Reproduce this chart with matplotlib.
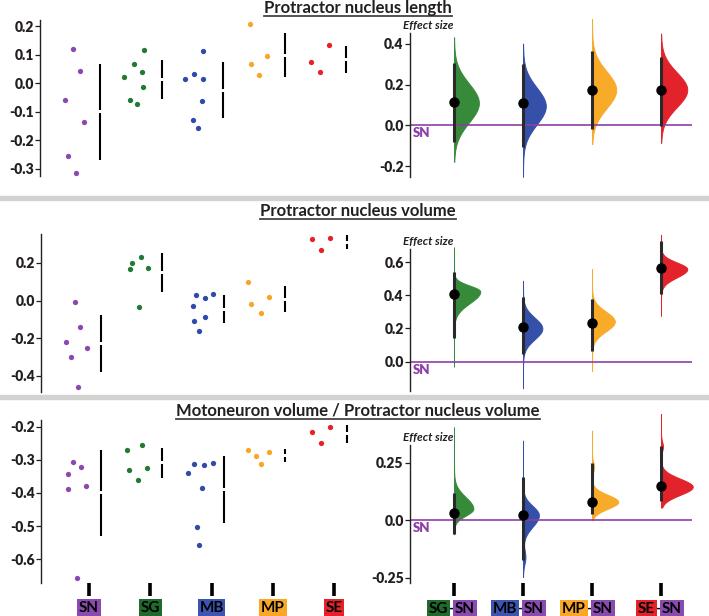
import numpy as np
import matplotlib
matplotlib.use("Agg")
import matplotlib.pyplot as plt
from matplotlib.lines import Line2D
from matplotlib.patches import Rectangle

plt.rcParams['font.family'] = ['Lato', 'DejaVu Sans']
plt.rcParams['axes.unicode_minus'] = False

groups = ['SN', 'SG', 'MB', 'MP', 'SE']
dot_colors = {'SN': '#8c47b0', 'SG': '#217a33', 'MB': '#2f4aa8', 'MP': '#f9a623', 'SE': '#e8202a'}
fill_colors = {'SG': '#378a3a', 'MB': '#3450a8', 'MP': '#f8ab28', 'SE': '#e3232b'}
box_colors = {'SN': '#8a4bb0', 'SG': '#1f6b2e', 'MB': '#3c55b0', 'MP': '#f9a825', 'SE': '#e52229'}
text_dark = '#231f20'

titles = ['Protractor nucleus length',
          'Protractor nucleus volume',
          'Motoneuron volume / Protractor nucleus volume']

# ---- raw measurements (left panels) ----
length_vals = {
    'SN': [0.121, 0.043, -0.058, -0.135, -0.255, -0.315],
    'SG': [0.116, 0.069, 0.040, 0.021, -0.012, -0.058, -0.074],
    'MB': [0.113, 0.033, 0.013, 0.016, -0.063, -0.130, -0.156],
    'MP': [0.207, 0.066, 0.094, 0.029],
    'SE': [0.133, 0.076, 0.040],
}
volume_vals = {
    'SN': [-0.007, -0.138, -0.218, -0.250, -0.298, -0.459],
    'SG': [0.199, 0.229, 0.167, 0.172, -0.035],
    'MB': [0.027, 0.014, 0.034, -0.027, -0.085, -0.110, -0.163],
    'MP': [0.098, 0.021, -0.020, -0.064],
    'SE': [0.328, 0.330, 0.268],
}
ratio_vals = {
    'SN': [-0.306, -0.321, -0.344, -0.387, -0.380, -0.656],
    'SG': [-0.271, -0.254, -0.332, -0.326, -0.362],
    'MB': [-0.339, -0.314, -0.316, -0.311, -0.385, -0.504, -0.557],
    'MP': [-0.272, -0.290, -0.276, -0.312],
    'SE': [-0.215, -0.200, -0.250],
}

# mean and sd shown as gapped bars
length_mean = [-0.100, 0.0135, -0.0245, 0.0985, 0.083]
length_sd = [0.169, 0.0675, 0.0975, 0.0765, 0.047]
volume_mean = [-0.2285, 0.1475, -0.045, 0.008, 0.3095]
volume_sd = [0.1525, 0.1045, 0.075, 0.068, 0.0365]
ratio_mean = [-0.400, -0.3095, -0.390, -0.2875, -0.2215]
ratio_sd = [0.129, 0.0445, 0.100, 0.0185, 0.0265]

# horizontal jitter of the dots (layout only)
length_jit = {
    'SN': [-0.24, -0.13, -0.37, -0.07, -0.33, -0.20],
    'SG': [-0.09, -0.25, -0.12, -0.41, -0.11, -0.32, -0.20],
    'MB': [-0.13, -0.28, -0.42, -0.13, -0.15, -0.29, -0.21],
    'MP': [-0.37, -0.35, -0.09, -0.22],
    'SE': [-0.08, -0.37, -0.23],
}
volume_jit = {
    'SN': [-0.23, -0.15, -0.37, -0.03, -0.29, -0.18],
    'SG': [-0.30, -0.15, -0.33, -0.04, -0.19],
    'MB': [-0.26, -0.11, 0.02, -0.31, -0.11, -0.28, -0.20],
    'MP': [-0.40, -0.06, -0.35, -0.20],
    'SE': [-0.36, -0.07, -0.21],
}
ratio_jit = {
    'SN': [-0.26, -0.13, -0.34, -0.34, -0.05, -0.20],
    'SG': [-0.37, -0.14, -0.35, -0.06, -0.20],
    'MB': [-0.39, -0.28, -0.13, 0.02, -0.15, -0.24, -0.20],
    'MP': [-0.41, -0.28, -0.06, -0.20],
    'SE': [-0.36, -0.07, -0.21],
}

# ---- effect sizes vs SN (right panels) ----
contrasts = ['SG', 'MB', 'MP', 'SE']
length_est = [0.117, 0.109, 0.174, 0.174]
length_ci = [(-0.081, 0.306), (-0.105, 0.303), (-0.020, 0.364), (-0.003, 0.334)]
volume_est = [0.407, 0.207, 0.234, 0.564]
volume_ci = [(0.145, 0.538), (0.044, 0.389), (0.066, 0.377), (0.407, 0.725)]
ratio_est = [0.033, 0.022, 0.080, 0.148]
ratio_ci = [(-0.058, 0.116), (-0.174, 0.186), (0.026, 0.249), (0.084, 0.322)]

# bootstrap distribution outlines: mode, sd below, sd above, min, max, peak width
length_dist = [(0.110, 0.095, 0.095, -0.179, 0.433, 0.36),
               (0.095, 0.090, 0.090, -0.253, 0.402, 0.33),
               (0.175, 0.090, 0.090, -0.092, 0.523, 0.35),
               (0.175, 0.085, 0.085, -0.086, 0.451, 0.38)]
volume_dist = [(0.423, 0.070, 0.035, -0.030, 0.689, 0.38),
               (0.200, 0.065, 0.065, -0.161, 0.487, 0.28),
               (0.242, 0.060, 0.060, -0.058, 0.558, 0.33),
               (0.558, 0.050, 0.040, 0.276, 0.765, 0.38)]
ratio_dist = [(0.050, 0.030, 0.050, -0.061, 0.403, 0.28),
              (0.022, 0.050, 0.040, -0.246, 0.345, 0.23),
              (0.080, 0.030, 0.030, 0.000, 0.388, 0.38),
              (0.145, 0.035, 0.035, 0.055, 0.461, 0.46)]
# small secondary bumps: (centre, relative height, sd)
ratio_bumps = [None, (-0.16, 0.15, 0.03), (0.23, 0.08, 0.02), (0.32, 0.06, 0.02)]

rows = [
    dict(vals=length_vals, jit=length_jit, mean=length_mean, sd=length_sd,
         est=length_est, ci=length_ci, dist=length_dist, bumps=[None] * 4,
         lyt=[0.2, 0.1, 0.0, -0.1, -0.2, -0.3], lylim=(-0.326, 0.222),
         ryt=[0.4, 0.2, 0.0, -0.2], rylim=(-0.254, 0.454),
         lbox=(40, 20, 320, 156), rbox=(410, 33, 282, 144),
         title_y=8, uline_y=16, eff_y=26),
    dict(vals=volume_vals, jit=volume_jit, mean=volume_mean, sd=volume_sd,
         est=volume_est, ci=volume_ci, dist=volume_dist, bumps=[None] * 4,
         lyt=[0.2, 0.0, -0.2, -0.4], lylim=(-0.485, 0.353),
         ryt=[0.6, 0.4, 0.2, 0.0], rylim=(-0.177, 0.679),
         lbox=(41, 234, 319, 158), rbox=(410, 249, 282, 142),
         title_y=211, uline_y=219, eff_y=242),
    dict(vals=ratio_vals, jit=ratio_jit, mean=ratio_mean, sd=ratio_sd,
         est=ratio_est, ci=ratio_ci, dist=ratio_dist, bumps=ratio_bumps,
         lyt=[-0.2, -0.3, -0.4, -0.5, -0.6], lylim=(-0.672, -0.18),
         ryt=[0.25, 0.0, -0.25], rylim=(-0.272, 0.326),
         lbox=(41, 420, 319, 163), rbox=(410, 445, 282, 138),
         title_y=411, uline_y=419, eff_y=438),
]

W, H = 709, 616
fig = plt.figure(figsize=(W / 100, H / 100), dpi=100)


def px_axes(box):
    x, y, w, h = box
    return fig.add_axes([x / W, 1 - (y + h) / H, w / W, h / H])


def fmt(v):
    s = '%.2f' % v if abs(v * 10 - round(v * 10)) > 1e-6 else '%.1f' % v
    return s


def style_axis(ax, yt):
    for s in ['top', 'right', 'bottom']:
        ax.spines[s].set_visible(False)
    ax.spines['left'].set_color('#222222')
    ax.spines['left'].set_linewidth(1.0)
    ax.set_yticks(yt)
    ax.set_yticklabels([fmt(v) for v in yt])
    ax.tick_params(axis='y', length=3.5, width=0.9, pad=1, labelsize=10,
                   colors=text_dark)
    for lbl in ax.get_yticklabels():
        lbl.set_fontweight('heavy')
    ax.set_xticks([])


sep_ys = [196, 395]
for sy in sep_ys:
    fig.patches.append(Rectangle((0, 1 - (sy + 4) / H), 1, 4 / H,
                                 transform=fig.transFigure, color='#d2d2d2',
                                 zorder=0))

title_texts = []
for r, row in enumerate(rows):
    # left: raw dots and gapped mean/sd bar
    axl = px_axes(row['lbox'])
    axl.set_xlim(-0.78, 4.42)
    axl.set_ylim(*row['lylim'])
    style_axis(axl, row['lyt'])
    yr = row['lylim'][1] - row['lylim'][0]
    gap = 1.5 * yr / row['lbox'][3]
    for i, g in enumerate(groups):
        v = np.array(row['vals'][g])
        xs = i + np.array(row['jit'][g])
        axl.plot(xs, v, 'o', ms=3.8, color=dot_colors[g], mec='none',
                 clip_on=False)
        m, s = row['mean'][i], row['sd'][i]
        axl.plot([i + 0.2, i + 0.2], [m + gap, m + s], color='black', lw=1.5,
                 solid_capstyle='butt')
        axl.plot([i + 0.2, i + 0.2], [m - s, m - gap], color='black', lw=1.5,
                 solid_capstyle='butt')

    # right: effect size distributions
    axr = px_axes(row['rbox'])
    axr.set_xlim(-0.638, 3.449)
    axr.set_ylim(*row['rylim'])
    style_axis(axr, row['ryt'])
    axr.axhline(0, color='#8c3fa8', lw=1.2, zorder=2.5)
    for i, g in enumerate(contrasts):
        mode, sdl, sdh, lo, hi, pw = row['dist'][i]
        yy = np.linspace(lo, hi, 400)
        sdv = np.where(yy < mode, sdl, sdh)
        dens = np.exp(-0.5 * ((yy - mode) / sdv) ** 2)
        b = row['bumps'][i]
        if b is not None:
            dens = dens + b[1] * np.exp(-0.5 * ((yy - b[0]) / b[2]) ** 2)
        dens = dens / dens.max() * pw
        axr.fill_betweenx(yy, i, i + dens, color=fill_colors[g], lw=0.7,
                          ec=fill_colors[g], zorder=2, clip_on=False)
        lo_ci, hi_ci = row['ci'][i]
        axr.plot([i, i], [lo_ci, hi_ci], color='#2a2a2a', lw=2.2, zorder=3,
                 solid_capstyle='butt', clip_on=False)
        axr.plot(i, row['est'][i], 'o', color='black', ms=6.5, zorder=4,
                 clip_on=False)
    axr.annotate('SN', xy=(0, 0), xycoords=('axes fraction', 'data'),
                 xytext=(2, -1.5), textcoords='offset points', ha='left',
                 va='top', color='#8c3fa8', fontsize=9.5, fontweight='heavy')

    fig.text(403 / W, 1 - row['eff_y'] / H, 'Effect size', ha='left',
             va='center', fontsize=8.5, fontweight='bold', style='italic',
             color=text_dark)
    t = fig.text(358 / W, 1 - row['title_y'] / H, titles[r], ha='center',
                 va='center', fontsize=12, fontweight='bold', color=text_dark)
    title_texts.append((t, row['uline_y']))

    if r == 2:
        axl.set_xticks(range(len(groups)))
        axl.set_xticklabels(groups)
        axl.tick_params(axis='x', length=9, width=2.6, pad=4, labelsize=11,
                        colors='black')
        for lbl, g in zip(axl.get_xticklabels(), groups):
            lbl.set_fontweight('bold')
            lbl.set_bbox(dict(facecolor=box_colors[g], edgecolor='none',
                              pad=1.2))
        axr.set_xticks(range(len(contrasts)))
        axr.set_xticklabels([''] * len(contrasts))
        axr.tick_params(axis='x', length=9, width=2.6, colors='black')
        for i, g in enumerate(contrasts):
            kw = dict(xycoords=('data', 'axes fraction'),
                      textcoords='offset points', va='top', fontsize=11,
                      fontweight='bold', color='black')
            axr.annotate('-', xy=(i, 0), xytext=(-2, -13.5), ha='center', **kw)
            axr.annotate(g, xy=(i, 0), xytext=(-4.4, -13.5), ha='right',
                         bbox=dict(facecolor=box_colors[g], edgecolor='none',
                                   pad=1.2), **kw)
            axr.annotate('SN', xy=(i, 0), xytext=(0.6, -13.5), ha='left',
                         bbox=dict(facecolor=box_colors['SN'],
                                   edgecolor='none', pad=1.2), **kw)

fig.canvas.draw()
renderer = fig.canvas.get_renderer()
for t, uy in title_texts:
    bb = t.get_window_extent(renderer)
    fig.add_artist(Line2D([bb.x0 / W, bb.x1 / W], [1 - uy / H, 1 - uy / H],
                          transform=fig.transFigure, color='#444444', lw=1.3))

fig.savefig('out.png', dpi=100)
